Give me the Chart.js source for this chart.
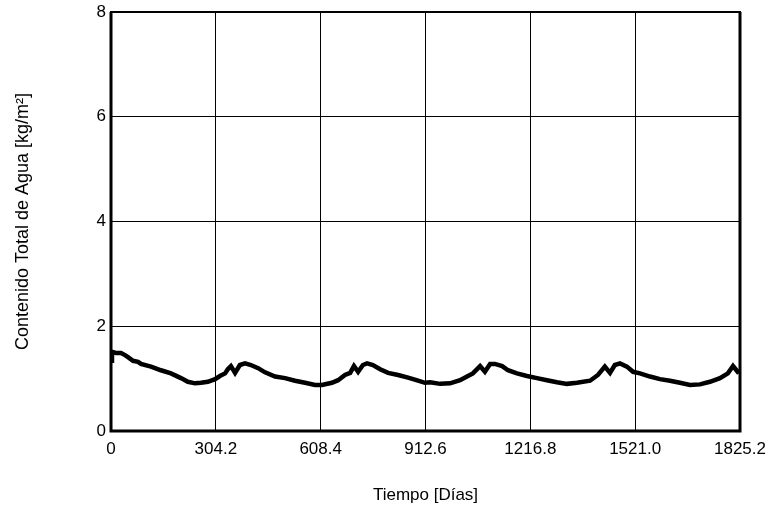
<!DOCTYPE html>
<html>
<head>
<meta charset="utf-8">
<script src="https://cdn.jsdelivr.net/npm/chart.js@4"></script>
<style>
  html, body { margin: 0; padding: 0; background: #fff; }
  #wrap { width: 768px; height: 506px; }
</style>
</head>
<body>
<div id="wrap"><canvas id="chart" width="768" height="506"></canvas></div>
<script>
// days (x) and total water content (y)
const days = [0, 2.9, 14.5, 29, 40.6, 49.3, 63.8, 78.3, 87, 116, 145, 174, 203, 223, 244, 261, 281, 302, 316, 331, 339, 348, 360, 374, 389, 406, 427,
  447, 476, 505, 534, 563, 592, 612, 641, 659, 679, 694, 705, 717, 731, 743, 760, 781, 804, 833, 862, 891, 911,
  926, 955, 984, 1013, 1033, 1050, 1071, 1085, 1100, 1114, 1135, 1152, 1178, 1207, 1236, 1265, 1294, 1323, 1352,
  1390, 1413, 1433, 1448, 1462, 1477, 1497, 1515, 1535, 1564, 1593, 1622, 1651, 1680, 1709, 1738, 1767, 1790, 1805, 1816, 1822];
const water = [1.34, 1.51, 1.49, 1.49, 1.45, 1.41, 1.34, 1.32, 1.28, 1.23, 1.16, 1.10, 1.01, 0.94, 0.91, 0.92, 0.94, 0.99, 1.05, 1.10, 1.18, 1.24, 1.11, 1.26, 1.29, 1.26, 1.20,
  1.12, 1.04, 1.01, 0.96, 0.92, 0.88, 0.88, 0.92, 0.97, 1.07, 1.11, 1.24, 1.13, 1.26, 1.29, 1.26, 1.18, 1.11, 1.07, 1.02, 0.96, 0.92,
  0.93, 0.90, 0.91, 0.97, 1.04, 1.10, 1.24, 1.13, 1.28, 1.28, 1.24, 1.16, 1.10, 1.05, 1.01, 0.97, 0.93, 0.90, 0.92,
  0.96, 1.07, 1.23, 1.11, 1.26, 1.29, 1.23, 1.13, 1.10, 1.04, 0.99, 0.96, 0.92, 0.88, 0.89, 0.94, 1.01, 1.10, 1.24, 1.15, 1.10];
const xTicks = [0, 304.2, 608.4, 912.6, 1216.8, 1521.0, 1825.2];
const yTicks = [0, 2, 4, 6, 8];

const fontFamily = '"Liberation Sans", Arial, sans-serif';

const frame = {
  id: 'frame',
  afterDraw(chart) {
    const {ctx, chartArea: a} = chart;
    ctx.save();
    ctx.strokeStyle = '#000';
    ctx.lineWidth = 2;
    ctx.strokeRect(a.left, a.top, a.right - a.left, a.bottom - a.top);
    ctx.lineWidth = 3;
    ctx.beginPath();
    ctx.moveTo(a.left, a.top);
    ctx.lineTo(a.left, a.bottom);
    ctx.lineTo(a.right, a.bottom);
    ctx.lineTo(a.right, a.top);
    ctx.stroke();
    ctx.restore();
  }
};

new Chart(document.getElementById('chart'), {
  type: 'line',
  data: {
    datasets: [{
      data: days.map((d, i) => ({x: d, y: water[i]})),
      borderColor: '#000',
      borderWidth: 4.5,
      pointRadius: 0,
      tension: 0,
      fill: false,
    }]
  },
  options: {
    responsive: false,
    animation: false,
    layout: { padding: {top: 12, right: 28, left: 0, bottom: 0} },
    plugins: { legend: {display: false}, tooltip: {enabled: false} },
    scales: {
      x: {
        type: 'linear',
        min: 0,
        max: 1825.2,
        afterBuildTicks: s => { s.ticks = xTicks.map(v => ({value: v})); },
        afterFit: s => { s.height = 75; s.paddingLeft = 0; s.paddingRight = 0; },
        ticks: {
          color: '#000',
          font: {family: fontFamily, size: 17},
          padding: 8,
          maxRotation: 0,
          callback: v => v === 0 ? '0' : v.toFixed(1),
        },
        grid: { color: '#000', lineWidth: 1, drawTicks: false },
        border: { display: false },
        title: {
          display: true,
          text: 'Tiempo [Días]',
          color: '#000',
          font: {family: fontFamily, size: 17},
          padding: {top: 18, bottom: 0},
        }
      },
      y: {
        min: 0,
        max: 8,
        afterBuildTicks: s => { s.ticks = yTicks.map(v => ({value: v})); },
        afterFit: s => { s.width = 111; s.paddingTop = 0; s.paddingBottom = 0; },
        ticks: {
          color: '#000',
          font: {family: fontFamily, size: 17},
          padding: 5,
        },
        grid: { color: '#000', lineWidth: 1, drawTicks: false },
        border: { display: false },
        title: {
          display: true,
          text: 'Contenido Total de Agua [kg/m²]',
          color: '#000',
          font: {family: fontFamily, size: 18},
          padding: {top: 12, bottom: 0},
        }
      }
    }
  },
  plugins: [frame]
});
</script>
</body>
</html>
